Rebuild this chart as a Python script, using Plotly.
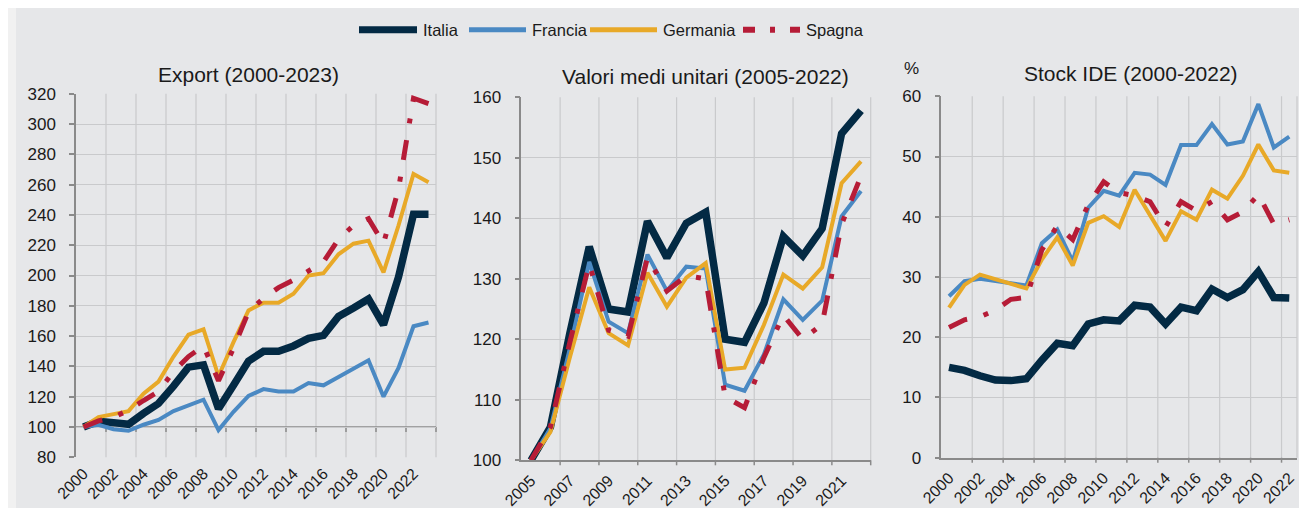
import plotly.graph_objects as go

W, H = 1307, 508

# ---------------- data ----------------
countries = ["Italia", "Francia", "Germania", "Spagna"]

export_years = list(range(2000, 2024))
export_italia = [100, 103.8, 102.9, 101.8, 109, 115.5, 127, 139.5, 141, 112, 127.5, 143.5,
                 150, 150, 153.5, 158.5, 160.5, 173, 178.5, 184.5, 167.5, 199, 240.5, 240.5]
export_francia = [100, 101.4, 98.5, 97.5, 101.5, 104.7, 110.5, 114.5, 118, 98, 110, 120.5,
                  125, 123.5, 123.5, 129, 127.5, 133, 138.5, 144, 120, 139, 166.5, 169]
export_germania = [100, 106.5, 108.5, 110.5, 122, 130, 146.5, 161, 164.5, 133.5, 156, 177,
                   182, 182, 188, 200, 201.5, 214, 221, 223, 202, 233, 267, 261.5]
export_spagna = [100, 104, 106.5, 111, 117.5, 123.5, 136.5, 146.5, 153.5, 130.5, 152, 176,
                 185, 192, 197, 203, 209, 224, 233, 237.5, 221, 257, 317, 313.5]

uv_years = list(range(2005, 2023))
uv_italia = [100, 105.5, 121, 135.3, 125, 124.5, 139.5, 133.5, 139.2, 141, 120, 119.5,
             126, 137, 133.8, 138.3, 154, 157.8]
uv_francia = [100, 105.3, 118.5, 132.8, 122.9, 121, 134, 128, 132, 131.7, 112.5, 111.5,
              117.5, 126.6, 123.2, 126.4, 140.3, 144.5]
uv_germania = [100, 104.7, 117, 128.6, 121, 119, 131, 125.4, 130.2, 132.6, 115, 115.3,
               122.4, 130.7, 128.4, 131.9, 145.8, 149.4]
uv_spagna = [100, 105.5, 119.5, 132.5, 121.5, 120.5, 133.5, 128, 130.5, 130, 110.5, 108.7,
             117, 124, 120, 122.5, 139, 147]

ide_years = list(range(2000, 2023))
ide_italia = [15, 14.5, 13.6, 12.9, 12.8, 13.1, 16.2, 19, 18.6, 22.2, 22.9, 22.7, 25.3, 25,
              22.2, 25, 24.4, 28, 26.6, 27.9, 30.9, 26.6, 26.5]
ide_francia = [26.8, 29.3, 29.7, 29.3, 29, 28.6, 35.6, 37.9, 32.6, 41.5, 44.3, 43.5, 47.3,
               47, 45.3, 51.9, 51.9, 55.4, 52, 52.5, 58.7, 51.5, 53.3]
ide_germania = [24.9, 28.7, 30.4, 29.6, 28.8, 28.1, 32.9, 36.6, 31.9, 39, 40.1, 38.3, 44.5,
                40.1, 36, 40.9, 39.5, 44.5, 43, 46.8, 52, 47.7, 47.3]
ide_spagna = [21.6, 22.9, 23.4, 24.5, 26.3, 26.6, 34.5, 38.5, 36.2, 42, 45.8, 44, 43.5,
              42.5, 38.3, 42.5, 41, 42.5, 39.5, 40.8, 43.7, 38.8, 39.5]

titles = ["Export (2000-2023)", "Valori medi unitari (2005-2022)", "Stock IDE (2000-2022)"]

# ---------------- style ----------------
FONT = "Liberation Sans, Arial, sans-serif"
TXT = "#1a1a1a"
BG = "#e6e7e9"
GRID = "#c9cacc"
AXIS = "#8a8a8a"
COLORS = {"Italia": "#032a44", "Francia": "#4a89c3", "Germania": "#e8a928", "Spagna": "#b61c37"}
WIDTHS = {"Italia": 7.5, "Francia": 4, "Germania": 4, "Spagna": 5}
DASHES = {"Italia": "solid", "Francia": "solid", "Germania": "solid", "Spagna": "20px,17px,5px,17px"}

panels = [
    (export_years, [export_italia, export_francia, export_germania, export_spagna]),
    (uv_years, [uv_italia, uv_francia, uv_germania, uv_spagna]),
    (ide_years, [ide_italia, ide_francia, ide_germania, ide_spagna]),
]

# pixel geometry of plot areas (left, right, top, bottom)
boxes = [(68, 428, 85.7, 449.3), (513.3, 862.7, 89.3, 452.3), (933.3, 1289, 88.3, 449.7)]
yranges = [(80, 320, 20), (100, 160, 10), (0, 60, 10)]
cross_values = [100, None, None]  # value where the category axis crosses

fig = go.Figure()
for p, (years, series) in enumerate(panels):
    xa = "x" if p == 0 else f"x{p+1}"
    ya = "y" if p == 0 else f"y{p+1}"
    for name, vals in zip(countries, series):
        fig.add_trace(go.Scatter(
            x=years, y=vals, name=name, mode="lines", xaxis=xa, yaxis=ya,
            line=dict(color=COLORS[name], width=WIDTHS[name], dash=DASHES[name]),
            showlegend=False, hoverinfo="skip"))


def px_x(v):
    return v / W


def px_y(v):
    return 1 - v / H


layout_axes = {}
shapes = []
annotations = []
for p, (years, _) in enumerate(panels):
    l, r, t, b = boxes[p]
    y0, y1, dy = yranges[p]
    lo, hi = years[0] - 0.5, years[-1] + 0.5
    tickvals = years[::2]
    xkey = "xaxis" if p == 0 else f"xaxis{p+1}"
    ykey = "yaxis" if p == 0 else f"yaxis{p+1}"
    yname = "y" if p == 0 else f"y{p+1}"
    xname = "x" if p == 0 else f"x{p+1}"
    cross = cross_values[p]
    layout_axes[xkey] = dict(
        domain=[l / W, r / W], range=[lo, hi], anchor=yname,
        tickmode="array", tickvals=tickvals, ticktext=[str(v) for v in tickvals],
        tickangle=-45, ticks="", showgrid=False, zeroline=False,
        showline=cross is None, linecolor=AXIS, linewidth=1.5,
        tickfont=dict(family=FONT, size=16, color=TXT), ticklabelstandoff=3,
        fixedrange=True, automargin=False)
    layout_axes[ykey] = dict(
        domain=[1 - b / H, 1 - t / H], range=[y0, y1], anchor=xname,
        tickmode="linear", tick0=y0, dtick=dy, showgrid=True, gridcolor=GRID, gridwidth=1.2,
        zeroline=False, showline=True, linecolor=AXIS, linewidth=1.5,
        ticks="outside", ticklen=5, tickcolor=AXIS, tickwidth=1.5,
        tickfont=dict(family=FONT, size=17, color=TXT), ticklabelstandoff=10,
        fixedrange=True, automargin=False)

    # category boundaries every two years: vertical gridlines + tick marks
    # (positions derived from the axis range/domain of each panel)
    def xpix(v, l=l, r=r, lo=lo, hi=hi):
        return l + (v - lo) / (hi - lo) * (r - l)

    bounds = [lo + 2 * k for k in range(len(years) // 2 + 1) if lo + 2 * k <= hi]
    grid_bounds = bounds + ([hi] if bounds[-1] != hi else [])
    for v in grid_bounds[1:]:
        X = px_x(xpix(v))
        shapes.append(dict(type="line", xref="paper", yref="paper", x0=X, x1=X,
                           y0=px_y(b), y1=px_y(t), line=dict(color=GRID, width=1.2),
                           layer="below"))
    axis_px = b if cross is None else b - (cross - y0) / (y1 - y0) * (b - t)
    if cross is not None:
        shapes.append(dict(type="line", xref="paper", yref="paper", x0=px_x(l), x1=px_x(r),
                           y0=px_y(axis_px), y1=px_y(axis_px),
                           line=dict(color=AXIS, width=1.5), layer="below"))
    for v in bounds[1:]:
        X = px_x(xpix(v))
        shapes.append(dict(type="line", xref="paper", yref="paper", x0=X, x1=X,
                           y0=px_y(axis_px), y1=px_y(axis_px + 5),
                           line=dict(color=AXIS, width=1.5), layer="below"))

# titles
title_pos = [(240, 66.7), (697.5, 69), (1122.5, 65.8)]
for txt, (tx, ty) in zip(titles, title_pos):
    annotations.append(dict(text=txt, xref="paper", yref="paper", x=tx / W, y=1 - ty / H,
                            xanchor="center", yanchor="middle", showarrow=False,
                            font=dict(family=FONT, size=21, color=TXT)))
annotations.append(dict(text="%", xref="paper", yref="paper", x=903 / W, y=1 - 60 / H,
                        xanchor="center", yanchor="middle", showarrow=False,
                        font=dict(family=FONT, size=17, color=TXT)))

# legend (drawn manually to match the sample length)
leg_y = 1 - 21.7 / H
leg_items = [("Italia", 351, 409, 413), ("Francia", 461, 518, 522),
             ("Germania", 582, 649, 652.5), ("Spagna", 735, 792, 795.5)]
for name, x0, x1, tx in leg_items:
    shapes.append(dict(type="line", xref="paper", yref="paper", x0=x0 / W, x1=x1 / W,
                       y0=leg_y, y1=leg_y,
                       line=dict(color=COLORS[name], width=min(WIDTHS[name] + 1, 7),
                                 dash="12px,15px,5px,15px" if name == "Spagna" else "solid")))
    annotations.append(dict(text=name, xref="paper", yref="paper", x=tx / W, y=leg_y,
                            xanchor="left", yanchor="middle", showarrow=False,
                            font=dict(family=FONT, size=16.5, color=TXT)))

# light outer strips
shapes.append(dict(type="rect", xref="paper", yref="paper", x0=0, x1=8 / W, y0=0, y1=1,
                   fillcolor="#f1f1f1", line=dict(width=0), layer="below"))
shapes.append(dict(type="rect", xref="paper", yref="paper", x0=0, x1=1, y0=0, y1=3 / H,
                   fillcolor="#f1f1f1", line=dict(width=0), layer="below"))

fig.update_layout(
    template="none", width=W, height=H, margin=dict(l=0, r=0, t=0, b=0),
    paper_bgcolor=BG, plot_bgcolor="rgba(0,0,0,0)", showlegend=False,
    shapes=shapes, annotations=annotations, **layout_axes)

fig.write_html("out.html")
